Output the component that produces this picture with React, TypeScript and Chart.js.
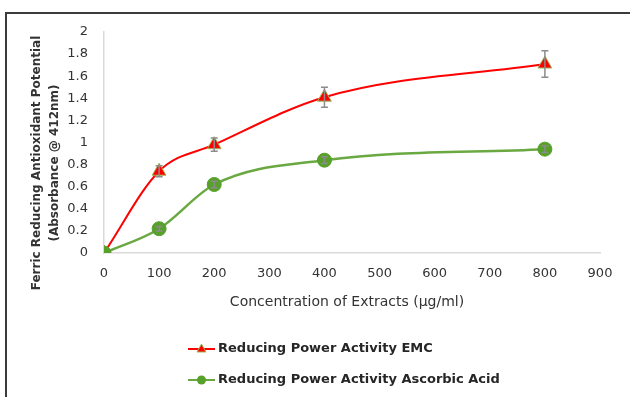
import React, { useEffect, useRef } from "react";
import { Chart, registerables } from "chart.js";

Chart.register(...registerables);

const concentrations = [0, 100, 200, 400, 800];
const emcValues = [0, 0.74, 0.98, 1.41, 1.71];
const emcErrors = [0, 0.05, 0.06, 0.09, 0.12];
const ascorbicValues = [0, 0.22, 0.62, 0.84, 0.94];
const ascorbicErrors = [0, 0.02, 0.03, 0.03, 0.03];
const seriesLabels = ["Reducing Power Activity EMC", "Reducing Power Activity Ascorbic Acid"];
const xTitle = "Concentration of Extracts (µg/ml)";
const yTitleLines = ["Ferric Reducing Antioxidant Potential", "(Absorbance @ 412nm)"];

const TEXT = "#333333";
const FONT = "DejaVu Sans";

const errorBarPlugin = {
  id: "errorBars",
  afterDatasetsDraw(chart: any) {
    const ctx = chart.ctx;
    const xs = chart.scales.x;
    const ys = chart.scales.y;
    const sets = [emcErrors, ascorbicErrors];
    const vals = [emcValues, ascorbicValues];
    ctx.save();
    ctx.strokeStyle = "#8c8c8c";
    ctx.lineWidth = 1.5;
    sets.forEach((errs, si) => {
      errs.forEach((e, i) => {
        if (!e) return;
        const x = xs.getPixelForValue(concentrations[i]);
        const yt = ys.getPixelForValue(vals[si][i] + e);
        const yb = ys.getPixelForValue(vals[si][i] - e);
        ctx.beginPath();
        ctx.moveTo(x, yt);
        ctx.lineTo(x, yb);
        ctx.moveTo(x - 3.5, yt);
        ctx.lineTo(x + 3.5, yt);
        ctx.moveTo(x - 3.5, yb);
        ctx.lineTo(x + 3.5, yb);
        ctx.stroke();
      });
    });
    ctx.restore();
  },
};

const textPlugin = {
  id: "extraText",
  afterDraw(chart: any) {
    const ctx = chart.ctx;
    ctx.save();
    ctx.fillStyle = TEXT;
    ctx.font = `bold 12px ${FONT}`;
    ctx.textAlign = "center";
    ctx.textBaseline = "middle";
    ctx.translate(46, 163);
    ctx.rotate(-Math.PI / 2);
    ctx.fillText(yTitleLines[0], 0, -9);
    ctx.fillText(yTitleLines[1], 0, 9);
    ctx.restore();

    ctx.save();
    ctx.fillStyle = TEXT;
    ctx.font = `14px ${FONT}`;
    ctx.textAlign = "center";
    ctx.textBaseline = "middle";
    ctx.fillText(xTitle, 347, 302);
    ctx.restore();

    ctx.save();
    const items = [
      { color: "#ff0000", y: 349, tri: true },
      { color: "#6aa842", y: 380, tri: false },
    ];
    items.forEach((it, i) => {
      ctx.strokeStyle = it.color;
      ctx.lineWidth = 2;
      ctx.beginPath();
      ctx.moveTo(188, it.y);
      ctx.lineTo(215, it.y);
      ctx.stroke();
      if (it.tri) {
        ctx.fillStyle = "#ff0000";
        ctx.strokeStyle = "#9bbb59";
        ctx.lineWidth = 1;
        ctx.beginPath();
        ctx.moveTo(201.5, it.y - 5);
        ctx.lineTo(206, it.y + 3);
        ctx.lineTo(197, it.y + 3);
        ctx.closePath();
        ctx.fill();
        ctx.stroke();
      } else {
        ctx.fillStyle = "#57a02a";
        ctx.beginPath();
        ctx.arc(201.5, it.y, 4.5, 0, Math.PI * 2);
        ctx.fill();
      }
      ctx.fillStyle = "#262626";
      ctx.font = `bold 13px ${FONT}`;
      ctx.textAlign = "left";
      ctx.textBaseline = "middle";
      ctx.fillText(seriesLabels[i], 218, it.y);
    });
    ctx.restore();
  },
};

export default function App() {
  const ref = useRef<HTMLCanvasElement | null>(null);
  useEffect(() => {
    if (!ref.current) return;
    const chart = new Chart(ref.current, {
      type: "line",
      data: {
        datasets: [
          {
            label: seriesLabels[0],
            data: concentrations.map((x, i) => ({ x, y: emcValues[i] })),
            order: 1,
            borderColor: "#ff0000",
            borderWidth: 2,
            pointStyle: "triangle",
            pointRadius: 8,
            pointBackgroundColor: "#ff0000",
            pointBorderColor: "#9bbb59",
            pointBorderWidth: 1,
            tension: 0.4,
            cubicInterpolationMode: "monotone",
          },
          {
            label: seriesLabels[1],
            data: concentrations.map((x, i) => ({ x, y: ascorbicValues[i] })),
            order: 0,
            borderColor: "#6aa842",
            borderWidth: 2.5,
            pointStyle: "circle",
            pointRadius: 7,
            pointBackgroundColor: "#57a02a",
            pointBorderColor: "#57a02a",
            pointBorderWidth: 1,
            tension: 0.4,
            cubicInterpolationMode: "monotone",
          },
        ],
      },
      options: {
        animation: false,
        responsive: false,
        maintainAspectRatio: false,
        layout: { padding: { left: 0, top: 32, right: 30, bottom: 0 } },
        plugins: { legend: { display: false }, tooltip: { enabled: false } },
        scales: {
          x: {
            type: "linear",
            min: 0,
            max: 900,
            ticks: { stepSize: 100, color: TEXT, font: { family: FONT, size: 13 }, padding: 13, maxRotation: 0 },
            grid: { display: false, drawTicks: false },
            border: { display: true, color: "#d9d9d9", width: 1.5 },
            afterFit: (s: any) => { s.height = 144; },
          },
          y: {
            min: 0,
            max: 2,
            ticks: {
              stepSize: 0.2,
              color: TEXT,
              font: { family: FONT, size: 13 },
              padding: 16,
              callback: (v: any) => String(Math.round(Number(v) * 10) / 10),
            },
            grid: { display: false, drawTicks: false },
            border: { display: true, color: "#d9d9d9", width: 1.5 },
            afterFit: (s: any) => { s.width = 104; },
          },
        },
      },
      plugins: [errorBarPlugin, textPlugin],
    });
    return () => chart.destroy();
  }, []);
  return (
    <div style={{ position: "fixed", left: 0, top: 0, width: 630, height: 397, background: "#fff" }}>
      <div style={{ position: "absolute", left: 5, top: 12, right: 0, bottom: 0, borderTop: "2px solid #3c3c3c", borderLeft: "2px solid #3c3c3c" }} />
      <canvas ref={ref} width={630} height={397} style={{ position: "absolute", left: 0, top: 0 }} />
    </div>
  );
}
